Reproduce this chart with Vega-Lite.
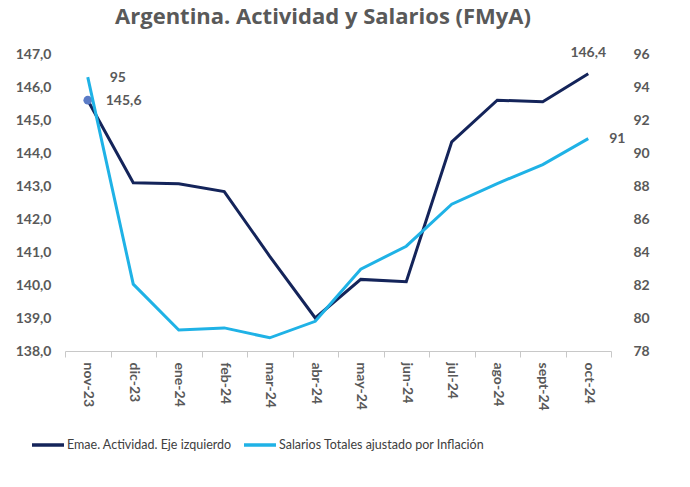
{
  "$schema": "https://vega.github.io/schema/vega-lite/v6.json",
  "width": 546,
  "height": 297,
  "autosize": {"type": "none"},
  "padding": {"left": 65, "top": 54, "right": 79, "bottom": 136},
  "background": "white",
  "title": {
    "text": "Argentina. Actividad y Salarios (FMyA)",
    "font": "Open Sans",
    "fontSize": 22,
    "fontWeight": "bold",
    "color": "#595959",
    "anchor": "middle",
    "dx": -15,
    "offset": 17
  },
  "config": {
    "locale": {"number": {"decimal": ",", "thousands": ".", "grouping": [3], "currency": ["", " €"]}},
    "view": {"stroke": null},
    "font": "Lato"
  },
  "data": {
    "values": [
      {"mes": "nov-23", "serie": "Emae. Actividad. Eje izquierdo", "valor": 145.6},
      {"mes": "dic-23", "serie": "Emae. Actividad. Eje izquierdo", "valor": 143.1},
      {"mes": "ene-24", "serie": "Emae. Actividad. Eje izquierdo", "valor": 143.07},
      {"mes": "feb-24", "serie": "Emae. Actividad. Eje izquierdo", "valor": 142.83},
      {"mes": "mar-24", "serie": "Emae. Actividad. Eje izquierdo", "valor": 140.87},
      {"mes": "abr-24", "serie": "Emae. Actividad. Eje izquierdo", "valor": 139.0},
      {"mes": "may-24", "serie": "Emae. Actividad. Eje izquierdo", "valor": 140.17},
      {"mes": "jun-24", "serie": "Emae. Actividad. Eje izquierdo", "valor": 140.1},
      {"mes": "jul-24", "serie": "Emae. Actividad. Eje izquierdo", "valor": 144.34},
      {"mes": "ago-24", "serie": "Emae. Actividad. Eje izquierdo", "valor": 145.6},
      {"mes": "sept-24", "serie": "Emae. Actividad. Eje izquierdo", "valor": 145.55},
      {"mes": "oct-24", "serie": "Emae. Actividad. Eje izquierdo", "valor": 146.4},
      {"mes": "nov-23", "serie": "Salarios Totales ajustado por Inflación", "valor": 94.6},
      {"mes": "dic-23", "serie": "Salarios Totales ajustado por Inflación", "valor": 82.05},
      {"mes": "ene-24", "serie": "Salarios Totales ajustado por Inflación", "valor": 79.27},
      {"mes": "feb-24", "serie": "Salarios Totales ajustado por Inflación", "valor": 79.4},
      {"mes": "mar-24", "serie": "Salarios Totales ajustado por Inflación", "valor": 78.8},
      {"mes": "abr-24", "serie": "Salarios Totales ajustado por Inflación", "valor": 79.8},
      {"mes": "may-24", "serie": "Salarios Totales ajustado por Inflación", "valor": 82.96},
      {"mes": "jun-24", "serie": "Salarios Totales ajustado por Inflación", "valor": 84.35},
      {"mes": "jul-24", "serie": "Salarios Totales ajustado por Inflación", "valor": 86.9},
      {"mes": "ago-24", "serie": "Salarios Totales ajustado por Inflación", "valor": 88.15},
      {"mes": "sept-24", "serie": "Salarios Totales ajustado por Inflación", "valor": 89.3},
      {"mes": "oct-24", "serie": "Salarios Totales ajustado por Inflación", "valor": 90.87}
    ]
  },
  "encoding": {
    "x": {
      "field": "mes",
      "type": "ordinal",
      "sort": ["nov-23", "dic-23", "ene-24", "feb-24", "mar-24", "abr-24", "may-24", "jun-24", "jul-24", "ago-24", "sept-24", "oct-24"],
      "scale": {"type": "band", "paddingInner": 0, "paddingOuter": 0},
      "bandPosition": 0.5,
      "axis": {
        "title": null,
        "labelAngle": 90,
        "labelAlign": "left",
        "labelBaseline": "middle",
        "tickBand": "extent",
        "domainColor": "#c8c8c8",
        "tickColor": "#c8c8c8",
        "tickSize": 6,
        "labelPadding": 5,
        "labelFont": "Lato",
        "labelFontSize": 14,
        "labelFontWeight": "bold",
        "labelColor": "#595959"
      }
    }
  },
  "layer": [
    {
      "transform": [{"filter": "datum.serie == 'Emae. Actividad. Eje izquierdo'"}],
      "encoding": {
        "y": {
          "field": "valor",
          "type": "quantitative",
          "scale": {"domain": [138, 147], "nice": false, "zero": false},
          "axis": {
            "title": null,
            "orient": "left",
            "values": [138, 139, 140, 141, 142, 143, 144, 145, 146, 147],
            "format": ".1f",
            "domain": false,
            "ticks": false,
            "grid": false,
            "labelPadding": 14,
            "labelFont": "Lato",
            "labelFontSize": 14,
            "labelFontWeight": "bold",
            "labelColor": "#595959"
          }
        }
      },
      "layer": [
        {
          "mark": {"type": "line", "strokeWidth": 3},
          "encoding": {
            "color": {
              "field": "serie",
              "type": "nominal",
              "scale": {
                "domain": ["Emae. Actividad. Eje izquierdo", "Salarios Totales ajustado por Inflación"],
                "range": ["#14245a", "#1fb2e6"]
              },
              "legend": {
                "title": null,
                "orient": "none",
                "legendX": -35,
                "legendY": 373,
                "direction": "horizontal",
                "symbolType": "stroke",
                "symbolSize": 1024,
                "symbolStrokeWidth": 3.5,
                "labelFont": "Lato",
                "labelFontSize": 12.5,
                "labelColor": "#404040",
                "labelLimit": 400,
                "labelOffset": 1,
                "columnPadding": 5
              }
            }
          }
        },
        {
          "transform": [{"filter": "datum.mes == 'nov-23'"}],
          "mark": {"type": "point", "filled": true, "size": 75, "color": "#5b7bc6", "opacity": 1}
        },
        {
          "transform": [{"filter": "datum.mes == 'nov-23'"}],
          "mark": {"type": "text", "align": "left", "baseline": "middle", "dx": 18, "dy": 1, "font": "Lato", "fontSize": 14, "fontWeight": "bold", "color": "#595959"},
          "encoding": {"text": {"field": "valor", "type": "quantitative", "format": ".1f"}}
        },
        {
          "transform": [{"filter": "datum.mes == 'oct-24'"}],
          "mark": {"type": "text", "align": "center", "baseline": "middle", "dy": -21, "font": "Lato", "fontSize": 14, "fontWeight": "bold", "color": "#595959"},
          "encoding": {"text": {"field": "valor", "type": "quantitative", "format": ".1f"}}
        }
      ]
    },
    {
      "transform": [{"filter": "datum.serie == 'Salarios Totales ajustado por Inflación'"}],
      "encoding": {
        "y": {
          "field": "valor",
          "type": "quantitative",
          "scale": {"domain": [78, 96], "nice": false, "zero": false},
          "axis": {
            "title": null,
            "orient": "right",
            "values": [78, 80, 82, 84, 86, 88, 90, 92, 94, 96],
            "format": ".0f",
            "domain": false,
            "ticks": false,
            "grid": false,
            "labelPadding": 22,
            "labelFont": "Lato",
            "labelFontSize": 14,
            "labelFontWeight": "bold",
            "labelColor": "#595959"
          }
        }
      },
      "layer": [
        {
          "mark": {"type": "line", "strokeWidth": 3},
          "encoding": {"color": {"field": "serie", "type": "nominal"}}
        },
        {
          "transform": [{"filter": "datum.mes == 'nov-23'"}],
          "mark": {"type": "text", "align": "left", "baseline": "middle", "dx": 22, "dy": 1, "font": "Lato", "fontSize": 14, "fontWeight": "bold", "color": "#595959"},
          "encoding": {"text": {"field": "valor", "type": "quantitative", "format": ".0f"}}
        },
        {
          "transform": [{"filter": "datum.mes == 'oct-24'"}],
          "mark": {"type": "text", "align": "left", "baseline": "middle", "dx": 21, "dy": 0, "font": "Lato", "fontSize": 14, "fontWeight": "bold", "color": "#595959"},
          "encoding": {"text": {"field": "valor", "type": "quantitative", "format": ".0f"}}
        }
      ]
    }
  ],
  "resolve": {"scale": {"y": "independent"}}
}
